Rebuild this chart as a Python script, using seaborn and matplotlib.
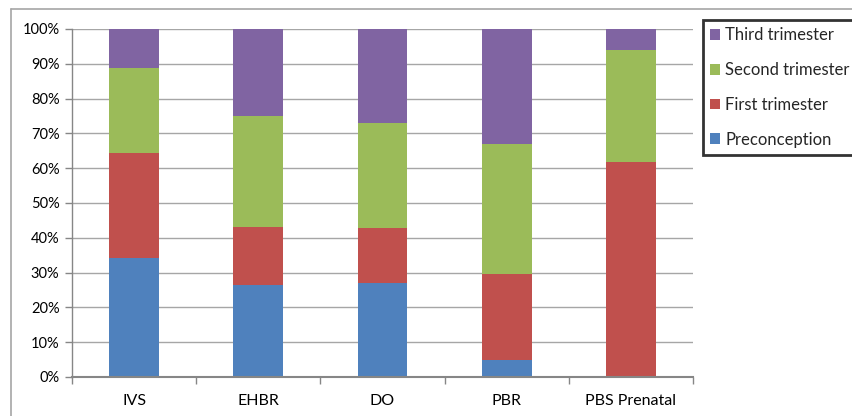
import numpy as np
import pandas as pd
import matplotlib
matplotlib.use("Agg")
import matplotlib.pyplot as plt
from matplotlib.lines import Line2D
from matplotlib.patches import Patch
import seaborn as sns

# Share of first exposure by trimester for each data source (percent)
sources = ["IVS", "EHBR", "DO", "PBR", "PBS Prenatal"]
preconception = [34.3, 26.3, 26.9, 4.9, 0.0]
first_trimester = [30.1, 16.8, 16.0, 24.6, 61.8]
second_trimester = [24.4, 31.9, 30.0, 37.5, 32.1]
third_trimester = [11.2, 25.0, 27.1, 33.0, 6.1]

series_names = ["Preconception", "First trimester", "Second trimester", "Third trimester"]
series_colors = ["#4F81BD", "#C0504D", "#9BBB59", "#8064A2"]
y_ticks = [0, 10, 20, 30, 40, 50, 60, 70, 80, 90, 100]

sns.set_theme(style="white")
plt.rcParams["font.family"] = ["Lato", "DejaVu Sans"]

df = pd.DataFrame({
    "source": sources,
    "Preconception": preconception,
    "First trimester": first_trimester,
    "Second trimester": second_trimester,
    "Third trimester": third_trimester,
})
# cumulative tops for stacking
cum = df[series_names].cumsum(axis=1)
cum["source"] = df["source"]

fig = plt.figure(figsize=(8.53, 4.16), dpi=100)
ax = fig.add_axes([72 / 853, 1 - 377 / 416, (693 - 72) / 853, (377 - 29) / 416])

grid_color = "#a6a6a6"
for yv in y_ticks[1:]:
    ax.axhline(yv, color=grid_color, lw=1.0, zorder=0)

# draw tallest cumulative series first so lower segments sit on top
for name, color in reversed(list(zip(series_names, series_colors))):
    sns.barplot(data=cum, x="source", y=name, color=color, width=0.4,
                saturation=1, ax=ax, zorder=2, edgecolor="none")

ax.set_xlim(-0.5, 4.5)
ax.set_ylim(0, 100)
ax.set_xlabel("")
ax.set_ylabel("")

ax.set_yticks(y_ticks)
ax.set_yticklabels([f"{v}%" for v in y_ticks], fontsize=10.5, color="#000000")
ax.tick_params(axis="y", which="major", direction="out", length=5, width=1,
               color="#868686", pad=4, left=True)

ax.set_xticks(np.arange(-0.5, 5.0, 1.0))
ax.set_xticklabels([])
ax.set_xticks(np.arange(len(sources)), minor=True)
ax.set_xticklabels(sources, minor=True, fontsize=11.5, color="#000000")
ax.tick_params(axis="x", which="major", direction="out", length=5, width=1,
               color="#868686", bottom=True)
ax.tick_params(axis="x", which="minor", length=0, pad=12)

for side in ["top", "right"]:
    ax.spines[side].set_visible(False)
ax.spines["left"].set_color("#868686")
ax.spines["left"].set_linewidth(1.0)
ax.spines["bottom"].set_color("#868686")
ax.spines["bottom"].set_linewidth(1.5)

# legend, top series listed first
handles = [Patch(facecolor=c, edgecolor="none") for c in reversed(series_colors)]
leg = fig.legend(handles, list(reversed(series_names)),
                 loc="upper left", bbox_to_anchor=(703 / 853, 1 - 20 / 416),
                 fontsize=12, frameon=True, fancybox=False,
                 handlelength=0.6, handleheight=0.6, handletextpad=0.3,
                 labelspacing=1.12, borderpad=0.45, borderaxespad=0)
leg.get_frame().set_edgecolor("#000000")
leg.get_frame().set_linewidth(2.0)

# chart area border
fig.add_artist(Line2D([11 / 853, 11 / 853], [0, 1 - 9 / 416],
                      transform=fig.transFigure, color="#a6a6a6", lw=1.2))
fig.add_artist(Line2D([11 / 853, 1], [1 - 9 / 416, 1 - 9 / 416],
                      transform=fig.transFigure, color="#a6a6a6", lw=1.2))

fig.savefig("out.png", dpi=100)
